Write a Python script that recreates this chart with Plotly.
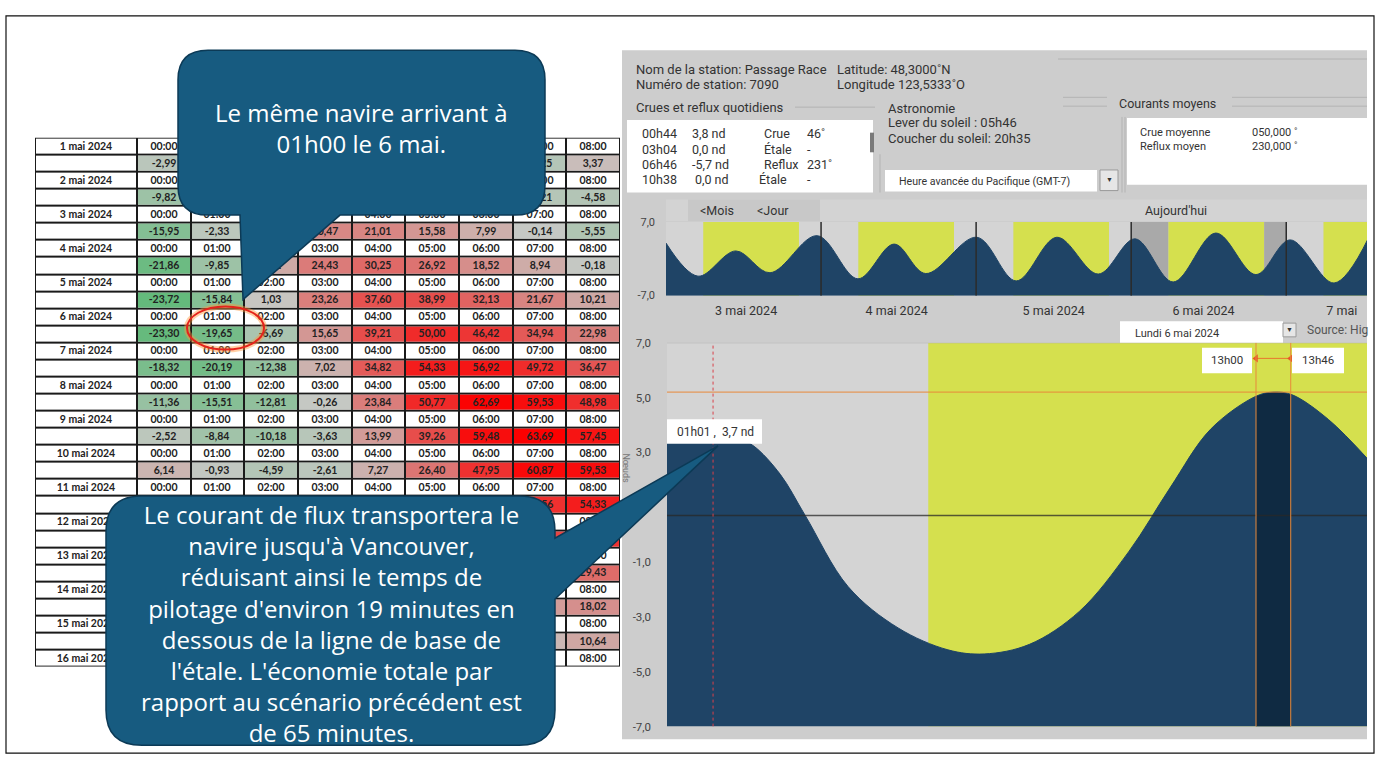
import numpy as np
import plotly.graph_objects as go

W, H = 1380, 766

# ---------------- data : tableau des courants ----------------
dates = ["1 mai 2024", "2 mai 2024", "3 mai 2024", "4 mai 2024", "5 mai 2024",
         "6 mai 2024", "7 mai 2024", "8 mai 2024", "9 mai 2024", "10 mai 2024",
         "11 mai 2024", "12 mai 2024", "13 mai 2024", "14 mai 2024", "15 mai 2024",
         "16 mai 2024"]
heures = ["00:00", "01:00", "02:00", "03:00", "04:00", "05:00", "06:00", "07:00", "08:00"]
courant_01 = [-2.99, 6.48, 11.32, 10.87, 5.20, -0.94, -5.61, -4.25, 3.37]
courant_02 = [-9.82, 1.95, 14.63, 17.48, 14.02, 7.36, 0.42, -4.21, -4.58]
courant_03 = [-15.95, -2.33, 12.84, 20.47, 21.01, 15.58, 7.99, -0.14, -5.55]
courant_04 = [-21.86, -9.85, 9.61, 24.43, 30.25, 26.92, 18.52, 8.94, -0.18]
courant_05 = [-23.72, -15.84, 1.03, 23.26, 37.60, 38.99, 32.13, 21.67, 10.21]
courant_06 = [-23.30, -19.65, -6.69, 15.65, 39.21, 50.00, 46.42, 34.94, 22.98]
courant_07 = [-18.32, -20.19, -12.38, 7.02, 34.82, 54.33, 56.92, 49.72, 36.47]
courant_08 = [-11.36, -15.51, -12.81, -0.26, 23.84, 50.77, 62.69, 59.53, 48.98]
courant_09 = [-2.52, -8.84, -10.18, -3.63, 13.99, 39.26, 59.48, 63.69, 57.45]
courant_10 = [6.14, -0.93, -4.59, -2.61, 7.27, 26.40, 47.95, 60.87, 59.53]
courant_11 = [12.37, 6.85, 1.02, 0.44, 5.93, 19.87, 38.14, 48.56, 54.33]
courant_12 = [17.90, 13.25, 6.48, 3.12, 4.55, 12.76, 28.91, 41.60, 47.85]
courant_13 = [20.14, 18.33, 11.92, 6.05, 3.87, 7.41, 17.25, 25.38, 29.43]
courant_14 = [19.02, 20.86, 16.47, 9.94, 4.76, 3.15, 7.62, 13.90, 18.02]
courant_15 = [15.33, 21.04, 19.75, 13.68, 6.91, 1.87, 1.24, 5.36, 10.64]
courants = [courant_01, courant_02, courant_03, courant_04, courant_05, courant_06,
            courant_07, courant_08, courant_09, courant_10, courant_11, courant_12,
            courant_13, courant_14, courant_15]

# ---------------- data : marée (aperçu 3 -> 7 mai, heures depuis 3 mai 00h) ----------------
apercu_h = [0, 4.95, 10.8, 16.1, 23.4, 29.7, 35.3, 40.2, 48.1, 54.2, 60.5, 66.9,
            72.6, 78.5, 85.1, 91.3, 96.6, 103.4, 108.7]
apercu_v = [3.0, -3.3, 1.5, -2.65, 4.4, -3.8, 2.8, -2.8, 4.1, -4.2, 4.1, -2.9,
            3.8, -4.4, 4.9, -3.0, 3.6, -4.6, 3.9]
jours_apercu = ["3 mai 2024", "4 mai 2024", "5 mai 2024", "6 mai 2024", "7 mai"]

# ---------------- data : détail du 6 mai ----------------
detail_h = [0, 0.5, 1.02, 1.5, 1.9, 2.5, 3.05, 4.0, 5.1, 6.2, 7.0, 8.0, 9.1, 10.2,
            11.1, 12.0, 13.0, 13.4, 13.8, 14.6, 15.5]
detail_v = [3.4, 3.65, 3.7, 3.55, 3.25, 2.2, 0.7, -1.9, -3.4, -4.2, -4.35, -4.0, -2.8,
            -0.6, 1.7, 3.85, 5.05, 5.2, 5.1, 4.2, 2.7]
fenetre_h = [13.0, 13.2, 13.4, 13.6, 13.767]
fenetre_v = [5.05, 5.15, 5.2, 5.17, 5.1]
lever = 5 + 46 / 60
coucher = 20 + 35 / 60
arrivee_h, arrivee_v = 1 + 1 / 60, 3.7
debut_fen, fin_fen = 13.0, 13 + 46 / 60
niveau_max = 5.2
ligne_etale = 0.7
y_ticks = [7, 5, 3, 1, -1, -3, -5, -7]

# ---------------- helpers ----------------
def px(x):
    return x / W


def py(y):
    return 1 - y / H


def fmt(v):
    return f"{v:.2f}".replace(".", ",")


# table geometry (pixels)
TX0, TX1, TY0, TY1 = 35, 620, 133, 672
col_edges = [0, 1.9] + [1.9 + k for k in range(1, 10)]
n_rows = 31
row_edges = list(range(n_rows + 1))
BUB_TOP = (178, 545, 44, 212)
BUB_BOT = (106, 555, 498, 752)


def cell_center(r, c):
    sx = (TX1 - TX0) / col_edges[-1]
    cx = TX0 + sx * (col_edges[c] + col_edges[c + 1]) / 2
    cy = TY0 + (TY1 - TY0) / n_rows * (r + 0.5)
    return cx, cy


def hidden(r, c):
    cx, cy = cell_center(r, c)
    for (x0, x1, y0, y1) in (BUB_TOP, BUB_BOT):
        if x0 + 10 < cx < x1 - 16 and y0 + 4 < cy < y1 - 4:
            return True
    return False


fig = go.Figure()

# ---------------- table as heatmaps ----------------
z_white = np.zeros((n_rows, 10))
t_white = [["" for _ in range(10)] for _ in range(n_rows)]
z_val = np.full((n_rows, 10), np.nan)
t_val = [["" for _ in range(10)] for _ in range(n_rows)]
r = 0
for i, d in enumerate(dates):
    labels = [d] + heures
    t_white[r] = ["" if hidden(r, c) else f"<b>{s}</b>" for c, s in enumerate(labels)]
    r += 1
    if i < len(courants):
        for j, v in enumerate(courants[i]):
            z_val[r, j + 1] = v
            t_val[r][j + 1] = "" if hidden(r, j + 1) else f"<b>{fmt(v)}</b>"
        r += 1

fig.add_trace(go.Heatmap(
    x=col_edges, y=row_edges, z=z_white, text=t_white, texttemplate="%{text}",
    textfont=dict(family="Lato, Liberation Sans", size=10.5, color="#222"),
    colorscale=[[0, "white"], [1, "white"]], showscale=False, xgap=2, ygap=2,
    hoverinfo="skip", xaxis="x", yaxis="y"))
zmin, zmax = -23.72, 63.69
mid = -zmin / (zmax - zmin)
fig.add_trace(go.Heatmap(
    x=col_edges, y=row_edges, z=z_val, text=t_val, texttemplate="%{text}",
    textfont=dict(family="Lato, Liberation Sans", size=10.5, color="#222"),
    colorscale=[[0, "rgb(100,186,124)"], [mid, "rgb(198,200,196)"], [1, "rgb(252,0,0)"]],
    zmin=zmin, zmax=zmax, showscale=False, xgap=2, ygap=2,
    hoverinfo="skip", xaxis="x", yaxis="y"))

# ---------------- small overview chart ----------------
fig.add_trace(go.Scatter(x=[0, 110], y=[-7, -7], mode="lines", line=dict(width=0),
                         showlegend=False, hoverinfo="skip", xaxis="x2", yaxis="y2"))
fig.add_trace(go.Scatter(x=apercu_h, y=apercu_v, mode="lines", fill="tonexty",
                         fillcolor="#1f4466", line=dict(color="#1f4466", width=1, shape="spline"),
                         showlegend=False, hoverinfo="skip", xaxis="x2", yaxis="y2"))

# ---------------- main detail chart ----------------
fig.add_trace(go.Scatter(x=[0, 16], y=[-7, -7], mode="lines", line=dict(width=0),
                         showlegend=False, hoverinfo="skip", xaxis="x3", yaxis="y3"))
fig.add_trace(go.Scatter(x=detail_h, y=detail_v, mode="lines", fill="tonexty",
                         fillcolor="#1f4466", line=dict(color="#1f4466", width=1, shape="spline"),
                         showlegend=False, hoverinfo="skip", xaxis="x3", yaxis="y3"))
fig.add_trace(go.Scatter(x=fenetre_h + [fenetre_h[-1], fenetre_h[0]],
                         y=fenetre_v + [-7, -7], mode="lines", fill="toself",
                         fillcolor="#0f2a42", line=dict(width=0),
                         showlegend=False, hoverinfo="skip", xaxis="x3", yaxis="y3"))
fig.add_trace(go.Scatter(x=[debut_fen, fin_fen], y=[6.43, 6.43], mode="lines+markers",
                         line=dict(color="#e8772e", width=1),
                         marker=dict(symbol=["triangle-left", "triangle-left"], size=7, color="#e8562a"),
                         showlegend=False, hoverinfo="skip", xaxis="x3", yaxis="y3"))

shapes = []
# panel background
shapes.append(dict(type="rect", xref="paper", yref="paper", x0=px(622), x1=px(1367),
                   y0=py(746), y1=py(44), fillcolor="#cdcdcd", line=dict(width=0), layer="below"))
# button bar
shapes.append(dict(type="rect", xref="paper", yref="paper", x0=px(666), x1=px(1367),
                   y0=py(218), y1=py(196), fillcolor="#d3d3d3", line=dict(width=0), layer="below"))
shapes.append(dict(type="rect", xref="paper", yref="paper", x0=px(688), x1=px(820),
                   y0=py(218), y1=py(196), fillcolor="#c8c8c8", line=dict(width=0), layer="below"))
# white boxes
for (x0, x1, y0, y1) in [(627, 873, 115, 189), (885, 1097, 166, 188), (1127, 1367, 113, 181),
                         (1120, 1283, 320, 344)]:
    shapes.append(dict(type="rect", xref="paper", yref="paper", x0=px(x0), x1=px(x1),
                       y0=py(y1), y1=py(y0), fillcolor="white", line=dict(width=0), layer="below"))
# dropdown buttons
for (x0, x1, y0, y1) in [(1100, 1118, 166, 187), (1283, 1296, 322, 336)]:
    shapes.append(dict(type="rect", xref="paper", yref="paper", x0=px(x0), x1=px(x1),
                       y0=py(y1), y1=py(y0), fillcolor="#e6e6e6",
                       line=dict(color="#9a9a9a", width=1), layer="below"))
# scrollbar
shapes.append(dict(type="rect", xref="paper", yref="paper", x0=px(870), x1=px(874),
                   y0=py(148), y1=py(128), fillcolor="#7a7a7a", line=dict(width=0), layer="below"))
# separator lines in panel
for (x0, y0, x1, y1) in [(1058, 53, 1367, 53), (795, 102, 875, 102), (1063, 92, 1107, 92),
                         (1063, 101, 1107, 101), (1232, 92, 1367, 92), (1232, 101, 1367, 101),
                         (880, 150, 880, 189), (1122, 112, 1122, 189), (1125, 112, 1125, 189)]:
    shapes.append(dict(type="line", xref="paper", yref="paper", x0=px(x0), x1=px(x1),
                       y0=py(y0), y1=py(y1), line=dict(color="#b3b3b3", width=1), layer="below"))

# table black grid background
shapes.append(dict(type="rect", xref="x", yref="y", x0=0, x1=col_edges[-1], y0=0, y1=n_rows,
                   fillcolor="#1a1a1a", line=dict(width=0), layer="below"))

# overview day/night bands
for d in range(5):
    night = "#a9a9a9" if d == 3 else "#d4d4d4"
    base = 24 * d
    shapes.append(dict(type="rect", xref="x2", yref="y2", x0=base, x1=base + lever, y0=-7, y1=7,
                       fillcolor=night, line=dict(width=0), layer="below"))
    shapes.append(dict(type="rect", xref="x2", yref="y2", x0=base + lever, x1=base + coucher,
                       y0=-7, y1=7, fillcolor="#d5e04e", line=dict(width=0), layer="below"))
    shapes.append(dict(type="rect", xref="x2", yref="y2", x0=base + coucher, x1=base + 24,
                       y0=-7, y1=7, fillcolor=night, line=dict(width=0), layer="below"))
for d in range(1, 5):
    shapes.append(dict(type="line", xref="x2", yref="y2", x0=24 * d, x1=24 * d, y0=-7, y1=7,
                       line=dict(color="#2b2b2b", width=1.5), layer="above"))

# detail chart background & daylight
shapes.append(dict(type="rect", xref="x3", yref="y3", x0=0, x1=16, y0=-7, y1=7,
                   fillcolor="#d4d4d4", line=dict(width=0), layer="below"))
shapes.append(dict(type="rect", xref="x3", yref="y3", x0=lever, x1=16, y0=-7, y1=7,
                   fillcolor="#d5e04e", line=dict(width=0), layer="below"))
shapes.append(dict(type="line", xref="x3", yref="y3", x0=0, x1=16, y0=7, y1=7,
                   line=dict(color="#b0b0b0", width=1), layer="above"))
shapes.append(dict(type="line", xref="x3", yref="y3", x0=0, x1=16, y0=niveau_max, y1=niveau_max,
                   line=dict(color="#e8893a", width=1), layer="above"))
shapes.append(dict(type="line", xref="x3", yref="y3", x0=0, x1=16, y0=ligne_etale, y1=ligne_etale,
                   line=dict(color="rgba(40,40,40,0.75)", width=1.5), layer="above"))
for xv in (debut_fen, fin_fen):
    shapes.append(dict(type="line", xref="x3", yref="y3", x0=xv, x1=xv, y0=-7, y1=7,
                       line=dict(color="#e8893a", width=1), layer="above"))
shapes.append(dict(type="line", xref="x3", yref="y3", x0=arrivee_h, x1=arrivee_h, y0=-7, y1=7,
                   line=dict(color="#d9404a", width=1, dash="dot"), layer="above"))

# white clip on the right edge
shapes.append(dict(type="rect", xref="paper", yref="paper", x0=px(1367.5), x1=1, y0=0, y1=1,
                   fillcolor="white", line=dict(width=0), layer="above"))

# label boxes in detail chart
for (x0, x1, y0, y1) in [(1202, 1252, 347, 373), (1292, 1344, 347, 373), (667, 762, 420, 445)]:
    shapes.append(dict(type="rect", xref="paper", yref="paper", x0=px(x0), x1=px(x1),
                       y0=py(y1), y1=py(y0), fillcolor="white", line=dict(width=0), layer="above"))


def to_path(pts):
    out = []
    for p in pts:
        cmd = p[0]
        coords = p[1:]
        cs = []
        for k in range(0, len(coords), 2):
            cs.append(f"{px(coords[k]):.5f},{py(coords[k + 1]):.5f}")
        out.append(cmd + " " + " ".join(cs))
    return " ".join(out) + " Z"


def bubble_top():
    x0, x1, y0, y1 = BUB_TOP
    rr = 30
    pts = [("M", x0 + rr, y0), ("L", x1 - rr, y0), ("Q", x1, y0, x1, y0 + rr), ("L", x1, y1 - rr),
           ("Q", x1, y1, x1 - rr, y1), ("L", 340, y1), ("L", 243, 298), ("L", 240, y1),
           ("L", x0 + rr, y1), ("Q", x0, y1, x0, y1 - rr), ("L", x0, y0 + rr),
           ("Q", x0, y0, x0 + rr, y0)]
    return to_path(pts)


def bubble_bottom():
    x0, x1, y0, y1 = BUB_BOT
    rr = 36
    pts = [("M", x0 + rr, y0), ("L", x1 - rr, y0), ("Q", x1, y0, x1, y0 + rr), ("L", x1, 541),
           ("L", 718, 447), ("L", x1, 603), ("L", x1, y1 - rr), ("Q", x1, y1, x1 - rr, y1),
           ("L", x0 + rr, y1), ("Q", x0, y1, x0, y1 - rr), ("L", x0, y0 + rr),
           ("Q", x0, y0, x0 + rr, y0)]
    return to_path(pts)


for path in (bubble_top(), bubble_bottom()):
    shapes.append(dict(type="path", xref="paper", yref="paper", path=path,
                       fillcolor="#175b80", line=dict(color="#0c3a56", width=1.5), layer="above"))

# red ellipse (glow + stroke)
shapes.append(dict(type="circle", xref="paper", yref="paper", x0=px(187), x1=px(264),
                   y0=py(349), y1=py(305), line=dict(color="rgba(255,150,60,0.45)", width=6),
                   layer="above"))
shapes.append(dict(type="circle", xref="paper", yref="paper", x0=px(187), x1=px(264),
                   y0=py(349), y1=py(305), line=dict(color="#e5231b", width=2), layer="above"))

# outer frame
shapes.append(dict(type="rect", xref="paper", yref="paper", x0=px(6), x1=px(1374),
                   y0=py(760), y1=py(9), line=dict(color="#111", width=1.2), layer="above"))

annotations = []


def txt(x, y, s, size=13, color="#333", anchor="left", family="Roboto, Liberation Sans",
        angle=0):
    annotations.append(dict(x=px(x), y=py(y), xref="paper", yref="paper", text=s,
                            showarrow=False, xanchor=anchor, yanchor="middle", textangle=angle,
                            align="center", font=dict(size=size, color=color, family=family)))


panel = "Roboto, Liberation Sans"
txt(634, 64, "Nom de la station: Passage Race")
txt(835, 64, "Latitude: 48,3000˚N")
txt(634, 79, "Numéro de station: 7090")
txt(835, 79, "Longitude 123,5333˚O")
txt(634, 102, "Crues et reflux quotidiens")
txt(886, 103, "Astronomie")
txt(886, 118, "Lever du soleil : 05h46")
txt(886, 134, "Coucher du soleil: 20h35")
txt(1117, 98, "Courants moyens", size=12.5)
marees = [("00h44", "3,8 nd", "Crue", "46˚"), ("03h04", "0,0 nd", "Étale", "-"),
          ("06h46", "-5,7 nd", "Reflux", "231˚"), ("10h38", "0,0 nd", "Étale", "-")]
for k, (a, b, c, e) in enumerate(marees):
    yy = 129 + k * 15.7
    txt(640, yy, a, size=12.5)
    txt(690 if k < 3 else 693, yy, b, size=12.5)
    txt(762 if k < 3 else 757, yy, c, size=12.5)
    txt(805, yy, e, size=12.5)
txt(1138, 128, "Crue moyenne", size=11)
txt(1138, 142, "Reflux moyen", size=11)
txt(1250, 128, "050,000 ˚", size=11)
txt(1250, 142, "230,000 ˚", size=11)
txt(897, 178, "Heure avancée du Pacifique (GMT-7)", size=10.6)
txt(1109, 176, "▼", size=7, anchor="center")
txt(1289, 329, "▼", size=7, anchor="center")
txt(698, 207, "<Mois", size=12.5)
txt(755, 207, "<Jour", size=12.5)
txt(1176, 207, "Aujourd'hui", size=12.5, anchor="center")
txt(1133, 333, "Lundi 6 mai 2024", size=11)
txt(1305, 329, "Source: Hig", size=12, color="#555")
txt(626, 470, "Nœuds", size=9, color="#777", anchor="center", angle=90)
txt(1227, 360, "13h00", size=11.5, anchor="center")
txt(1318, 360, "13h46", size=11.5, anchor="center")
txt(715, 433, "01h01 ,  3,7 nd", size=12, anchor="center")

bub = "Open Sans, Noto Sans, Liberation Sans"
txt(361, 123, "Le même navire arrivant à<br>01h00 le 6 mai.", size=24, color="white",
    anchor="center", family=bub)
lignes = ["Le courant de flux transportera le", "navire jusqu'à Vancouver,",
          "réduisant ainsi le temps de", "pilotage d'environ 19 minutes en",
          "dessous de la ligne de base de", "l'étale. L'économie totale par",
          "rapport au scénario précédent est", "de 65 minutes."]
txt(331, 628, "<br>".join(lignes), size=24, color="white", anchor="center", family=bub)

fig.update_layout(
    width=W, height=H, margin=dict(l=0, r=0, t=0, b=0),
    paper_bgcolor="white", plot_bgcolor="rgba(0,0,0,0)", showlegend=False,
    shapes=shapes, annotations=annotations,
    xaxis=dict(domain=[px(TX0), px(TX1)], range=[0, col_edges[-1]], visible=False, fixedrange=True),
    yaxis=dict(domain=[py(TY1), py(TY0)], range=[n_rows, 0], visible=False, fixedrange=True),
    xaxis2=dict(domain=[px(666), px(1367)], range=[0, 108.5], anchor="y2",
                tickvals=[12.4, 35.7, 60.0, 83.2, 104.6], ticktext=jours_apercu,
                showgrid=False, zeroline=False, showline=False, ticks="",
                tickfont=dict(size=12.5, color="#333", family=panel), ticklabelstandoff=6),
    yaxis2=dict(domain=[py(294), py(219)], range=[-7, 7], anchor="x2",
                tickvals=[7, -7], ticktext=["7,0", "-7,0"], showgrid=False, zeroline=False,
                ticks="", tickfont=dict(size=11, color="#444", family=panel), ticklabelstandoff=10),
    xaxis3=dict(domain=[px(667), px(1367)], range=[0, 15.45], anchor="y3",
                showticklabels=False, showgrid=False, zeroline=False, ticks=""),
    yaxis3=dict(domain=[py(733), py(342)], range=[-7, 7], anchor="x3",
                tickvals=y_ticks, ticktext=[f"{v:.1f}".replace(".", ",") for v in y_ticks],
                showgrid=False, zeroline=False, ticks="",
                tickfont=dict(size=11.5, color="#444", family=panel), ticklabelstandoff=15),
)

fig.write_html("out.html", config={"displayModeBar": False},
               post_script="document.body.style.margin='0';document.body.style.overflow='hidden';")
